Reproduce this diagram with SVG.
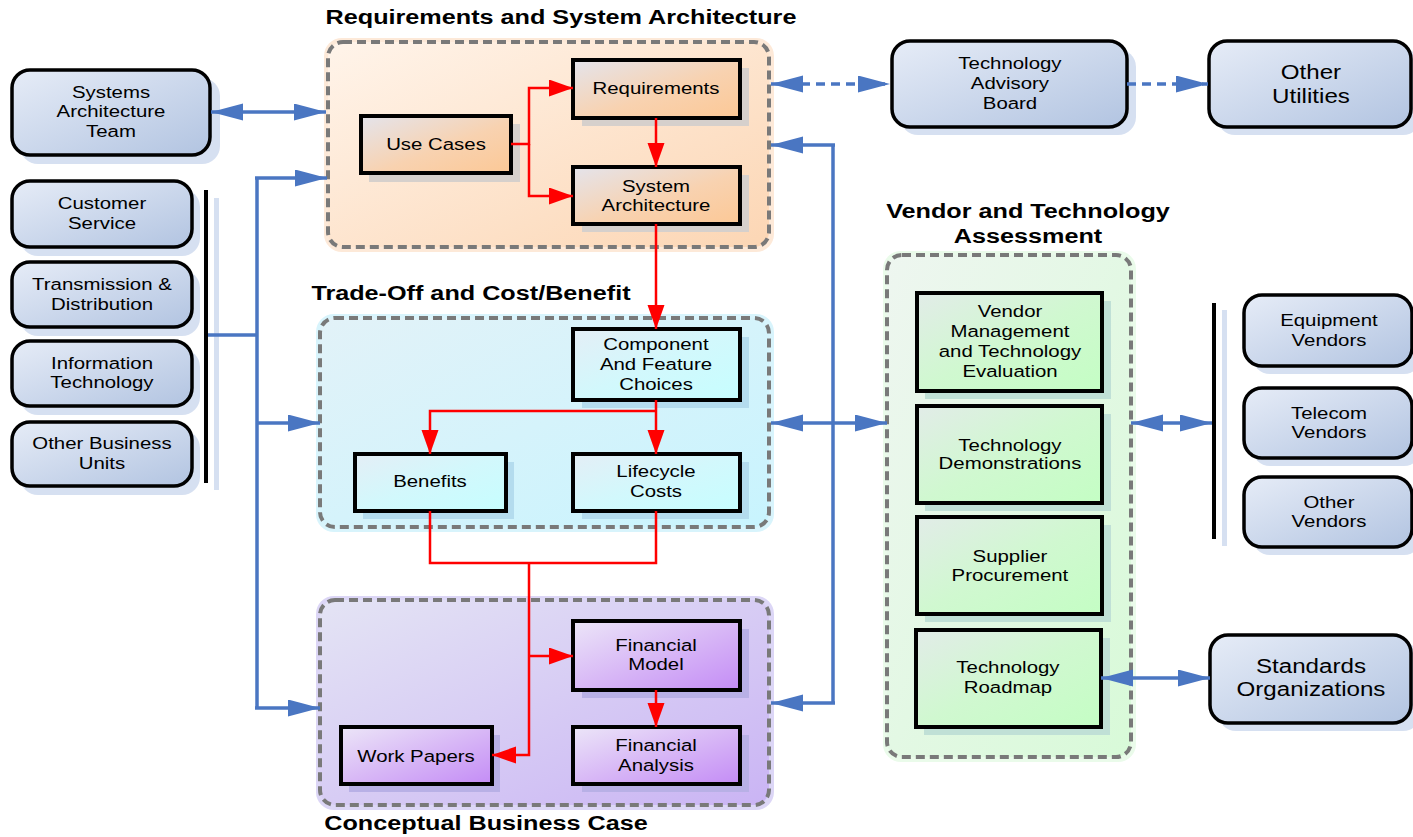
<svg xmlns="http://www.w3.org/2000/svg" width="1413" height="837" viewBox="0 0 1413 837">
<defs>
  <linearGradient id="gBlue" x1="0" y1="0" x2="1" y2="1"><stop offset="0" stop-color="#e6ecf7"/><stop offset="1" stop-color="#b2c4e1"/></linearGradient>
  <linearGradient id="gOrange" x1="0" y1="0" x2="1" y2="1"><stop offset="0" stop-color="#e4e4ec"/><stop offset="0.55" stop-color="#f8d2b0"/><stop offset="1" stop-color="#fcc896"/></linearGradient>
  <linearGradient id="gCyan" x1="0" y1="0" x2="1" y2="1"><stop offset="0" stop-color="#e4eef6"/><stop offset="0.5" stop-color="#d2f8fc"/><stop offset="1" stop-color="#c6feff"/></linearGradient>
  <linearGradient id="gPurple" x1="0" y1="0" x2="1" y2="1"><stop offset="0" stop-color="#ece6f8"/><stop offset="0.5" stop-color="#d8b8f6"/><stop offset="1" stop-color="#c48cf6"/></linearGradient>
  <linearGradient id="gGreen" x1="0" y1="0" x2="1" y2="1"><stop offset="0" stop-color="#e2ece8"/><stop offset="0.5" stop-color="#d0f8d0"/><stop offset="1" stop-color="#c4fec4"/></linearGradient>
  <linearGradient id="grpOrange" x1="0" y1="0" x2="1" y2="1"><stop offset="0" stop-color="#fff4ea"/><stop offset="1" stop-color="#fcd6b4"/></linearGradient>
  <linearGradient id="grpCyan" x1="0" y1="0" x2="1" y2="1"><stop offset="0" stop-color="#e2f2f8"/><stop offset="1" stop-color="#c8f4fe"/></linearGradient>
  <linearGradient id="grpPurple" x1="0" y1="0" x2="1" y2="1"><stop offset="0" stop-color="#e4e4f4"/><stop offset="1" stop-color="#cab4f4"/></linearGradient>
  <linearGradient id="grpGreen" x1="0" y1="0" x2="1" y2="1"><stop offset="0" stop-color="#eef6f0"/><stop offset="1" stop-color="#d8fad8"/></linearGradient>
  <marker id="ab" markerUnits="userSpaceOnUse" markerWidth="33" markerHeight="18" refX="32" refY="8.5" orient="auto-start-reverse"><path d="M0,0 L32,8.5 L0,17 z" fill="#4a76c2"/></marker>
  <marker id="ar" markerUnits="userSpaceOnUse" markerWidth="25" markerHeight="18" refX="24" refY="8.5" orient="auto-start-reverse"><path d="M0,0 L24,8.5 L0,17 z" fill="#ff0000"/></marker>
</defs>
<style>
  text { font-family: "Liberation Sans", Arial, sans-serif; fill: #000; text-anchor: middle; }
  .t { font-size: 17px; transform-box: fill-box; transform-origin: center; transform: scaleX(1.2); }
  .big { font-size: 21px; transform-box: fill-box; transform-origin: center; transform: scaleX(1.15); }
  .ttl { font-size: 21px; font-weight: bold; transform-box: fill-box; transform-origin: center; transform: scaleX(1.2); }
  .grp { stroke: #797979; stroke-width: 4; stroke-dasharray: 9 5; }
  .rbox { stroke: #000; stroke-width: 3.5; }
  .box { stroke: #000; stroke-width: 4; }
  .blue { fill: none; stroke: #4a76c2; stroke-width: 3.5; }
  .dash { stroke-dasharray: 9 6; }
  .red { fill: none; stroke: #ff0000; stroke-width: 2.5; }
  .shB { fill: #d6e0f1; }
</style>

<!-- group containers -->
<g id="grp-requirements">
  <rect x="324" y="38" width="450" height="214" rx="18" fill="#fde9d8"/>
  <rect x="328" y="42" width="441" height="205" rx="15" fill="url(#grpOrange)" class="grp"/>
  <text class="ttl" x="561" y="24">Requirements and System Architecture</text>
</g>
<g id="grp-tradeoff">
  <rect x="316" y="314" width="458" height="218" rx="18" fill="#d8f4fc"/>
  <rect x="320" y="318" width="449" height="209" rx="15" fill="url(#grpCyan)" class="grp"/>
  <text class="ttl" x="471" y="300">Trade-Off and Cost/Benefit</text>
</g>
<g id="grp-business">
  <rect x="316" y="596" width="458" height="214" rx="18" fill="#dcd6f6"/>
  <rect x="320" y="600" width="449" height="205" rx="15" fill="url(#grpPurple)" class="grp"/>
  <text class="ttl" x="486" y="830">Conceptual Business Case</text>
</g>
<g id="grp-vendor">
  <rect x="883" y="251" width="253" height="511" rx="18" fill="#eafbea"/>
  <rect x="887" y="255" width="244" height="502" rx="15" fill="url(#grpGreen)" class="grp"/>
  <text class="ttl" x="1028" y="218">Vendor and Technology</text>
  <text class="ttl" x="1028" y="243">Assessment</text>
</g>

<!-- bus bars -->
<g id="bars">
  <rect x="214" y="198" width="5" height="292" fill="#d6e0f1"/>
  <rect x="204" y="190" width="4" height="293" fill="#000"/>
  <rect x="1222" y="310" width="5" height="236" fill="#d6e0f1"/>
  <rect x="1212" y="303" width="4" height="236" fill="#000"/>
</g>

<!-- stakeholder nodes (left) -->
<g id="n-sat">
  <rect x="20" y="78" width="200" height="86" rx="18" class="shB"/>
  <rect x="12" y="70" width="198" height="85" rx="18" fill="url(#gBlue)" class="rbox"/>
  <text class="t" x="111" y="98">Systems</text><text class="t" x="111" y="117">Architecture</text><text class="t" x="111" y="137">Team</text>
</g>
<g id="n-cs">
  <rect x="20" y="189" width="180" height="67" rx="18" class="shB"/>
  <rect x="12" y="181" width="180" height="66" rx="18" fill="url(#gBlue)" class="rbox"/>
  <text class="t" x="102" y="209">Customer</text><text class="t" x="102" y="229">Service</text>
</g>
<g id="n-td">
  <rect x="20" y="270" width="180" height="66" rx="18" class="shB"/>
  <rect x="12" y="262" width="180" height="65" rx="18" fill="url(#gBlue)" class="rbox"/>
  <text class="t" x="102" y="290">Transmission &amp;</text><text class="t" x="102" y="310">Distribution</text>
</g>
<g id="n-it">
  <rect x="20" y="349" width="180" height="66" rx="18" class="shB"/>
  <rect x="12" y="341" width="180" height="65" rx="18" fill="url(#gBlue)" class="rbox"/>
  <text class="t" x="102" y="369">Information</text><text class="t" x="102" y="388">Technology</text>
</g>
<g id="n-obu">
  <rect x="20" y="430" width="180" height="65" rx="18" class="shB"/>
  <rect x="12" y="422" width="180" height="64" rx="18" fill="url(#gBlue)" class="rbox"/>
  <text class="t" x="102" y="449">Other Business</text><text class="t" x="102" y="469">Units</text>
</g>

<!-- requirements and architecture -->
<g id="n-usecases">
  <rect x="369" y="124" width="151" height="58" fill="#d6d0cc"/>
  <rect x="361" y="116" width="150" height="57" fill="url(#gOrange)" class="box"/>
  <text class="t" x="436" y="150">Use Cases</text>
</g>
<g id="n-requirements">
  <rect x="582" y="68" width="167" height="58" fill="#d6d0cc"/>
  <rect x="573" y="60" width="167" height="58" fill="url(#gOrange)" class="box"/>
  <text class="t" x="656" y="94">Requirements</text>
</g>
<g id="n-sysarch">
  <rect x="582" y="175" width="167" height="57" fill="#d6d0cc"/>
  <rect x="573" y="167" width="167" height="57" fill="url(#gOrange)" class="box"/>
  <text class="t" x="656" y="192">System</text><text class="t" x="656" y="211">Architecture</text>
</g>

<!-- trade-off -->
<g id="n-component">
  <rect x="582" y="337" width="167" height="71" fill="#b4dcee"/>
  <rect x="573" y="329" width="167" height="71" fill="url(#gCyan)" class="box"/>
  <text class="t" x="656" y="350">Component</text><text class="t" x="656" y="370">And Feature</text><text class="t" x="656" y="390">Choices</text>
</g>
<g id="n-benefits">
  <rect x="363" y="462" width="151" height="57" fill="#b4dcee"/>
  <rect x="355" y="454" width="151" height="57" fill="url(#gCyan)" class="box"/>
  <text class="t" x="430" y="487">Benefits</text>
</g>
<g id="n-lifecycle">
  <rect x="582" y="462" width="167" height="57" fill="#b4dcee"/>
  <rect x="573" y="454" width="167" height="57" fill="url(#gCyan)" class="box"/>
  <text class="t" x="656" y="477">Lifecycle</text><text class="t" x="656" y="497">Costs</text>
</g>

<!-- business case -->
<g id="n-finmodel">
  <rect x="582" y="629" width="167" height="69" fill="#b8b0e6"/>
  <rect x="573" y="621" width="167" height="69" fill="url(#gPurple)" class="box"/>
  <text class="t" x="656" y="651">Financial</text><text class="t" x="656" y="670">Model</text>
</g>
<g id="n-finanalysis">
  <rect x="582" y="735" width="167" height="57" fill="#b8b0e6"/>
  <rect x="573" y="727" width="167" height="57" fill="url(#gPurple)" class="box"/>
  <text class="t" x="656" y="751">Financial</text><text class="t" x="656" y="771">Analysis</text>
</g>
<g id="n-workpapers">
  <rect x="349" y="735" width="151" height="57" fill="#b8b0e6"/>
  <rect x="341" y="727" width="151" height="57" fill="url(#gPurple)" class="box"/>
  <text class="t" x="416" y="762">Work Papers</text>
</g>

<!-- advisory -->
<g id="n-tab">
  <rect x="900" y="49" width="236" height="86" rx="18" class="shB"/>
  <rect x="892" y="41" width="235" height="86" rx="18" fill="url(#gBlue)" class="rbox"/>
  <text class="t" x="1010" y="69">Technology</text><text class="t" x="1010" y="89">Advisory</text><text class="t" x="1010" y="109">Board</text>
</g>
<g id="n-utilities">
  <rect x="1217" y="49" width="204" height="86" rx="18" class="shB"/>
  <rect x="1209" y="41" width="202" height="86" rx="18" fill="url(#gBlue)" class="rbox"/>
  <text class="big" x="1311" y="79">Other</text><text class="big" x="1311" y="103">Utilities</text>
</g>

<!-- vendor assessment -->
<g id="n-vendormgmt">
  <rect x="925" y="301" width="186" height="98" fill="#c0e0d6"/>
  <rect x="917" y="293" width="185" height="98" fill="url(#gGreen)" class="box"/>
  <text class="t" x="1010" y="317">Vendor</text><text class="t" x="1010" y="337">Management</text><text class="t" x="1010" y="357">and Technology</text><text class="t" x="1010" y="377">Evaluation</text>
</g>
<g id="n-techdemo">
  <rect x="925" y="414" width="186" height="97" fill="#c0e0d6"/>
  <rect x="917" y="406" width="185" height="97" fill="url(#gGreen)" class="box"/>
  <text class="t" x="1010" y="451">Technology</text><text class="t" x="1010" y="469">Demonstrations</text>
</g>
<g id="n-supplier">
  <rect x="925" y="525" width="186" height="97" fill="#c0e0d6"/>
  <rect x="917" y="517" width="185" height="97" fill="url(#gGreen)" class="box"/>
  <text class="t" x="1010" y="562">Supplier</text><text class="t" x="1010" y="581">Procurement</text>
</g>
<g id="n-roadmap">
  <rect x="924" y="638" width="186" height="97" fill="#c0e0d6"/>
  <rect x="916" y="630" width="185" height="97" fill="url(#gGreen)" class="box"/>
  <text class="t" x="1008" y="673">Technology</text><text class="t" x="1008" y="693">Roadmap</text>
</g>

<!-- external -->
<g id="n-standards">
  <rect x="1218" y="643" width="203" height="88" rx="18" class="shB"/>
  <rect x="1210" y="635" width="201" height="88" rx="18" fill="url(#gBlue)" class="rbox"/>
  <text class="big" x="1311" y="673">Standards</text><text class="big" x="1311" y="696">Organizations</text>
</g>
<g id="n-equipment">
  <rect x="1252" y="303" width="170" height="71" rx="18" class="shB"/>
  <rect x="1244" y="295" width="168" height="71" rx="18" fill="url(#gBlue)" class="rbox"/>
  <text class="t" x="1329" y="326">Equipment</text><text class="t" x="1329" y="346">Vendors</text>
</g>
<g id="n-telecom">
  <rect x="1252" y="396" width="170" height="70" rx="18" class="shB"/>
  <rect x="1244" y="388" width="168" height="70" rx="18" fill="url(#gBlue)" class="rbox"/>
  <text class="t" x="1329" y="419">Telecom</text><text class="t" x="1329" y="438">Vendors</text>
</g>
<g id="n-othervendors">
  <rect x="1252" y="485" width="170" height="70" rx="18" class="shB"/>
  <rect x="1244" y="477" width="168" height="70" rx="18" fill="url(#gBlue)" class="rbox"/>
  <text class="t" x="1329" y="508">Other</text><text class="t" x="1329" y="527">Vendors</text>
</g>

<!-- connectors, drawn over node shadows -->
<g id="connectors">
  <path class="blue" d="M211,112 H326" marker-start="url(#ab)" marker-end="url(#ab)"/>
  <path class="blue" d="M208,335 H257"/>
  <path class="blue" d="M257,178 V708"/>
  <path class="blue" d="M255,178 H327" marker-end="url(#ab)"/>
  <path class="blue" d="M257,423 H320" marker-end="url(#ab)"/>
  <path class="blue" d="M255,708 H320" marker-end="url(#ab)"/>
  <path class="blue" d="M833,145 V703"/>
  <path class="blue" d="M835,145 H771" marker-end="url(#ab)"/>
  <path class="blue" d="M835,703 H771" marker-end="url(#ab)"/>
  <path class="blue" d="M771,423 H887" marker-start="url(#ab)" marker-end="url(#ab)"/>
  <path class="blue dash" d="M771,84 H890" marker-start="url(#ab)" marker-end="url(#ab)"/>
  <path class="blue dash" d="M1127,84 H1208" marker-end="url(#ab)"/>
  <path class="blue" d="M1131,423 H1212" marker-start="url(#ab)" marker-end="url(#ab)"/>
  <path class="blue" d="M1101,678 H1210" marker-start="url(#ab)" marker-end="url(#ab)"/>

  <path class="red" d="M511,144 H529 V88 H573" marker-end="url(#ar)"/>
  <path class="red" d="M529,144 V196 H573" marker-end="url(#ar)"/>
  <path class="red" d="M656,118 V167" marker-end="url(#ar)"/>
  <path class="red" d="M656,224 V329" marker-end="url(#ar)"/>
  <path class="red" d="M656,400 V454" marker-end="url(#ar)"/>
  <path class="red" d="M656,411 H430 V454" marker-end="url(#ar)"/>
  <path class="red" d="M430,511 V563 H656 V511"/>
  <path class="red" d="M529,563 V755 H492" marker-end="url(#ar)"/>
  <path class="red" d="M529,656 H573" marker-end="url(#ar)"/>
  <path class="red" d="M656,690 V727" marker-end="url(#ar)"/>
</g>
</svg>
